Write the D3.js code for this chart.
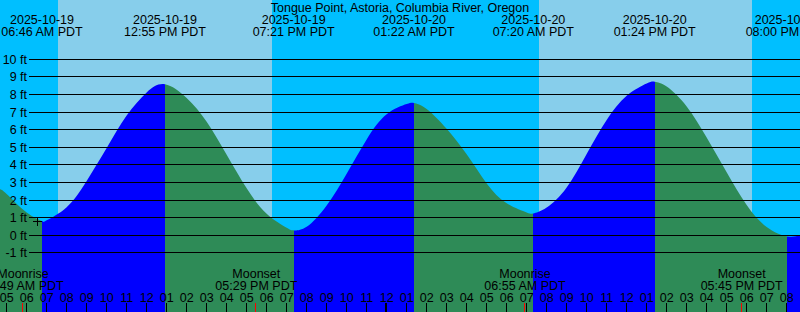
<!DOCTYPE html>
<html>
<head>
<meta charset="utf-8">
<script src="https://cdn.jsdelivr.net/npm/d3@7"></script>
<style>
  html, body { margin: 0; padding: 0; background: #fff; }
  svg { display: block; }
  text { font-family: "Liberation Sans", Arial, sans-serif; font-size: 12.5px; fill: #000; }
</style>
</head>
<body>
<div id="plot"></div>
<script>
// The SVG dimensions
const width = 800, height = 312;

const stationName = "Tongue Point, Astoria, Columbia River, Oregon";

// Tide levels (ft), hourly plus the turning points
const tideTimes = [
  "2025-10-19 04:40", "2025-10-19 05:00", "2025-10-19 06:00", "2025-10-19 06:46",
  "2025-10-19 07:00", "2025-10-19 08:00", "2025-10-19 09:00", "2025-10-19 10:00",
  "2025-10-19 11:00", "2025-10-19 12:00", "2025-10-19 12:55",
  "2025-10-19 14:00", "2025-10-19 15:00", "2025-10-19 16:00", "2025-10-19 17:00",
  "2025-10-19 18:00", "2025-10-19 19:00", "2025-10-19 19:21", "2025-10-19 20:00",
  "2025-10-19 21:00", "2025-10-19 22:00", "2025-10-19 23:00", "2025-10-20 00:00",
  "2025-10-20 01:00", "2025-10-20 01:22", "2025-10-20 02:00", "2025-10-20 03:00",
  "2025-10-20 04:00", "2025-10-20 05:00", "2025-10-20 06:00", "2025-10-20 07:00",
  "2025-10-20 07:20", "2025-10-20 08:00", "2025-10-20 09:00", "2025-10-20 10:00",
  "2025-10-20 11:00", "2025-10-20 12:00", "2025-10-20 13:00", "2025-10-20 13:24",
  "2025-10-20 14:00", "2025-10-20 15:00", "2025-10-20 16:00", "2025-10-20 17:00",
  "2025-10-20 18:00", "2025-10-20 19:00", "2025-10-20 20:00", "2025-10-20 20:40"
];
const tideLevels = [
  2.62, 2.35, 1.30, 0.81,
  0.85, 1.60, 3.09, 4.96,
  6.80, 8.12, 8.58,
  7.80, 6.45, 4.58, 2.67,
  1.22, 0.43, 0.28, 0.49,
  1.70, 3.50, 5.45, 6.88,
  7.46, 7.52, 7.18, 6.05,
  4.60, 2.95, 1.82, 1.30,
  1.24, 1.58, 2.72, 4.62,
  6.55, 7.93, 8.63, 8.73,
  8.45, 7.32, 5.55, 3.58,
  1.72, 0.47, -0.06, 0.00
];

// High / low tide times (labels on top)
const extremeTimes = [
  "2025-10-19 06:46", "2025-10-19 12:55", "2025-10-19 19:21",
  "2025-10-20 01:22", "2025-10-20 07:20", "2025-10-20 13:24", "2025-10-20 20:00"
];

// Sunrise / sunset
const sunriseTimes = ["2025-10-19 07:34", "2025-10-20 07:37"];
const sunsetTimes = ["2025-10-19 18:15", "2025-10-20 18:16"];

// Moon events
const moonNames = ["Moonrise", "Moonset", "Moonrise", "Moonset"];
const moonTimes = ["2025-10-19 05:49", "2025-10-19 17:29", "2025-10-20 06:55", "2025-10-20 17:45"];

// Marker (+) near the first low
const markTime = "2025-10-19 06:31";
const markLevel = 0.81;

const startTime = "2025-10-19 04:40", endTime = "2025-10-20 20:40";
const levelRange = [-1, 10];

const parseTime = d3.timeParse("%Y-%m-%d %H:%M");
const fmtDate = d3.timeFormat("%Y-%m-%d");
const fmtClock = d3.timeFormat("%I:%M %p PDT");
const fmtHour = d3.timeFormat("%I");

const tide = tideTimes.map((t, i) => ({t: parseTime(t), v: tideLevels[i]}));

// Set the scales
const x = d3.scaleTime().domain([parseTime(startTime), parseTime(endTime)]).range([0, width]);
const y = d3.scaleLinear().domain(levelRange).range([252.9, 59.3]);

const svg = d3.select("#plot")
  .append("svg")
  .attr("width", width)
  .attr("height", height);

// Night then day bands
svg.append("rect").attr("width", width).attr("height", height).attr("fill", "#00BFFF");
sunriseTimes.forEach((s, i) => {
  const x0 = Math.round(x(parseTime(s))), x1 = Math.round(x(parseTime(sunsetTimes[i])));
  svg.append("rect")
    .attr("x", x0).attr("y", 0)
    .attr("width", x1 - x0).attr("height", height)
    .attr("fill", "#87CEEB");
});

// Water: rising blue, falling green
const area = d3.area()
  .x(d => x(d.t))
  .y0(height)
  .y1(d => y(d.v))
  .curve(d3.curveNatural);

const bounds = [startTime, ...extremeTimes, endTime].map(parseTime);
const levelAt = t => tide.find(d => +d.t === +t).v;
const defs = svg.append("defs");
for (let i = 0; i < bounds.length - 1; i++) {
  const a = bounds[i], b = bounds[i + 1];
  const rising = levelAt(b) > levelAt(a);
  const x0 = Math.round(x(a)), x1 = Math.round(x(b));
  defs.append("clipPath").attr("id", "seg" + i)
    .append("rect").attr("x", x0).attr("y", 0).attr("width", x1 - x0).attr("height", height);
  svg.append("path")
    .datum(tide)
    .attr("clip-path", `url(#seg${i})`)
    .attr("fill", rising ? "#0000FF" : "#2E8B57")
    .attr("d", area);
}

// Level lines and labels
const levels = d3.range(levelRange[0], levelRange[1] + 1);
levels.forEach(v => {
  const yy = Math.floor(y(v)) + 0.5;
  svg.append("line")
    .attr("x1", 29).attr("x2", width)
    .attr("y1", yy).attr("y2", yy)
    .attr("stroke", "#000").attr("stroke-width", 1);
  svg.append("text")
    .attr("x", 27).attr("y", yy + 4.5)
    .attr("text-anchor", "end")
    .text(v + " ft");
});

// The + mark
const mx = Math.floor(x(parseTime(markTime))) + 0.5, my = Math.floor(y(markLevel)) + 0.5;
svg.append("path")
  .attr("d", `M${mx - 4.5},${my}H${mx + 4.5}M${mx},${my - 4.5}V${my + 4.5}`)
  .attr("stroke", "#000").attr("stroke-width", 1);

// Title and tide event labels
svg.append("text").attr("x", width / 2).attr("y", 12)
  .attr("text-anchor", "middle").text(stationName);

extremeTimes.map(parseTime).forEach(t => {
  svg.append("text").attr("x", x(t)).attr("y", 23.5)
    .attr("text-anchor", "middle").text(fmtDate(t));
  svg.append("text").attr("x", x(t)).attr("y", 35.5)
    .attr("text-anchor", "middle").text(fmtClock(t));
});

// Moon labels
moonTimes.map(parseTime).forEach((t, i) => {
  svg.append("text").attr("x", x(t)).attr("y", 277.5)
    .attr("text-anchor", "middle").text(moonNames[i]);
  svg.append("text").attr("x", x(t)).attr("y", 289.5)
    .attr("text-anchor", "middle").text(fmtClock(t));
});

// Hour ticks and labels
x.ticks(d3.timeHour.every(1)).forEach(t => {
  const xx = Math.round(x(t));
  const midnight = t.getHours() === 0;
  svg.append("line")
    .attr("x1", midnight ? xx - 1 : xx - 0.5).attr("x2", midnight ? xx - 1 : xx - 0.5)
    .attr("y1", 303).attr("y2", height)
    .attr("stroke", "#000").attr("stroke-width", midnight ? 2 : 1);
  svg.append("text").attr("x", x(t)).attr("y", 301.5)
    .attr("text-anchor", "middle").text(fmtHour(t));
});

// Moon event ticks
moonTimes.map(parseTime).forEach(t => {
  const xx = Math.round(x(t)) - 0.5;
  svg.append("line")
    .attr("x1", xx).attr("x2", xx)
    .attr("y1", 303).attr("y2", height)
    .attr("stroke", "#FF0000").attr("stroke-width", 1);
});
</script>
</body>
</html>
